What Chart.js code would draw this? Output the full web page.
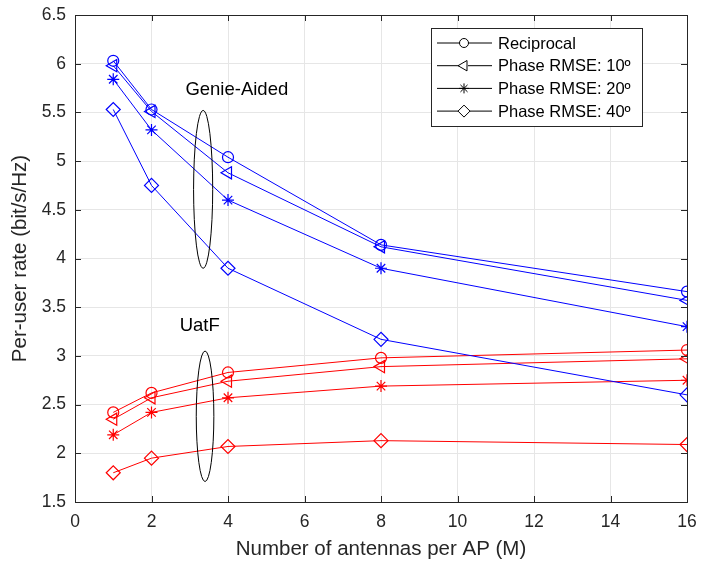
<!DOCTYPE html>
<html lang="en">
<head>
    <meta charset="UTF-8">
    <title>Per-user rate vs antennas per AP</title>
    <script src="https://cdn.jsdelivr.net/npm/chart.js"></script>
    <style>
        body, html {
            margin: 0;
            padding: 0;
            background-color: #ffffff;
        }
        .chart-box {
            width: 702px;
            height: 562px;
        }
    </style>
</head>
<body>
    <div class="chart-box">
        <canvas id="rateChart" width="702" height="562"></canvas>
    </div>

    <script>
        // Antennas per AP
        const antennas = [1, 2, 4, 8, 16];

        // Legend names and matching markers
        const seriesNames = ['Reciprocal', 'Phase RMSE: 10º', 'Phase RMSE: 20º', 'Phase RMSE: 40º'];
        const markers = ['circle', 'triangle', 'star', 'rectRot'];
        const markerRotation = [0, -90, 0, 0];
        const markerSize = [5.5, 7, 6, 7];

        // Genie-Aided rates (blue)
        const genieReciprocal = [6.03, 5.53, 5.04, 4.14, 3.66];
        const genie10 = [5.98, 5.51, 4.88, 4.12, 3.57];
        const genie20 = [5.84, 5.32, 4.60, 3.90, 3.30];
        const genie40 = [5.53, 4.75, 3.90, 3.17, 2.60];

        // UatF rates (red)
        const uatfReciprocal = [2.42, 2.62, 2.83, 2.98, 3.06];
        const uatf10 = [2.35, 2.57, 2.74, 2.89, 2.97];
        const uatf20 = [2.19, 2.42, 2.57, 2.69, 2.75];
        const uatf40 = [1.80, 1.95, 2.07, 2.13, 2.09];

        const xTicks = [0, 2, 4, 6, 8, 10, 12, 14, 16];
        const yTicks = [1.5, 2, 2.5, 3, 3.5, 4, 4.5, 5, 5.5, 6, 6.5];

        const fontName = "'Liberation Sans', Arial, sans-serif";

        function makeSet(values, idx, color) {
            return {
                label: seriesNames[idx],
                data: values.map((v, i) => ({ x: antennas[i], y: v })),
                borderColor: color,
                backgroundColor: 'rgba(0,0,0,0)',
                borderWidth: 1,
                pointStyle: markers[idx],
                pointRotation: markerRotation[idx],
                pointRadius: markerSize[idx],
                pointBorderWidth: 1.2,
                pointBorderColor: color,
                pointBackgroundColor: 'rgba(0,0,0,0)',
                fill: false,
                tension: 0
            };
        }

        const datasets = [
            makeSet(genieReciprocal, 0, '#0000ff'),
            makeSet(genie10, 1, '#0000ff'),
            makeSet(genie20, 2, '#0000ff'),
            makeSet(genie40, 3, '#0000ff'),
            makeSet(uatfReciprocal, 0, '#ff0000'),
            makeSet(uatf10, 1, '#ff0000'),
            makeSet(uatf20, 2, '#ff0000'),
            makeSet(uatf40, 3, '#ff0000')
        ];

        // Box, inward ticks, group ellipses and legend
        const extrasPlugin = {
            id: 'extras',
            afterDatasetsDraw(chart) {
                const ctx = chart.ctx;
                const a = chart.chartArea;
                const xs = chart.scales.x;
                const ys = chart.scales.y;

                ctx.save();
                ctx.strokeStyle = '#262626';
                ctx.lineWidth = 1;
                // inward tick marks
                ctx.beginPath();
                xTicks.forEach(t => {
                    const px = Math.round(xs.getPixelForValue(t)) + 0.5;
                    ctx.moveTo(px, a.bottom); ctx.lineTo(px, a.bottom - 6);
                    ctx.moveTo(px, a.top); ctx.lineTo(px, a.top + 6);
                });
                yTicks.forEach(t => {
                    const py = Math.round(ys.getPixelForValue(t)) + 0.5;
                    ctx.moveTo(a.left, py); ctx.lineTo(a.left + 6, py);
                    ctx.moveTo(a.right, py); ctx.lineTo(a.right - 6, py);
                });
                ctx.stroke();
                ctx.strokeRect(Math.round(a.left) + 0.5, Math.round(a.top) + 0.5,
                    Math.round(a.right - a.left), Math.round(a.bottom - a.top));

                // ellipses grouping the curves
                ctx.strokeStyle = '#000000';
                const ellipse = (cx, cy, hw, hh) => {
                    const px = xs.getPixelForValue(cx);
                    const py = ys.getPixelForValue(cy);
                    const rx = xs.getPixelForValue(cx + hw) - px;
                    const ry = py - ys.getPixelForValue(cy + hh);
                    ctx.beginPath();
                    ctx.ellipse(px, py, rx, ry, 0, 0, Math.PI * 2);
                    ctx.stroke();
                };
                ellipse(3.35, 4.71, 0.25, 0.81);
                ellipse(3.4, 2.38, 0.23, 0.67);

                ctx.fillStyle = '#000000';
                ctx.font = '18.5px ' + fontName;
                ctx.textAlign = 'center';
                ctx.textBaseline = 'middle';
                ctx.fillText('Genie-Aided', xs.getPixelForValue(4.23), ys.getPixelForValue(5.73));
                ctx.fillText('UatF', xs.getPixelForValue(3.26), ys.getPixelForValue(3.31));

                // legend
                const lx = 431, ly = 28, lw = 211, lh = 98;
                ctx.fillStyle = '#ffffff';
                ctx.fillRect(lx, ly, lw, lh);
                ctx.strokeStyle = '#262626';
                ctx.strokeRect(lx + 0.5, ly + 0.5, lw, lh);
                ctx.font = '16.5px ' + fontName;
                ctx.textAlign = 'left';
                seriesNames.forEach((name, i) => {
                    const ry = ly + 15 + i * 22.7;
                    ctx.strokeStyle = '#000000';
                    ctx.lineWidth = 1;
                    ctx.beginPath();
                    ctx.moveTo(lx + 6, ry);
                    ctx.lineTo(lx + 61, ry);
                    ctx.stroke();
                    // clear the line behind the marker
                    if (markers[i] !== 'star') {
                        ctx.fillStyle = '#ffffff';
                        ctx.beginPath();
                        ctx.arc(lx + 33, ry, 4, 0, Math.PI * 2);
                        ctx.fill();
                    }
                    Chart.helpers.drawPoint(ctx, {
                        pointStyle: markers[i],
                        rotation: markerRotation[i],
                        radius: markerSize[i] - 1,
                        borderWidth: 1.2
                    }, lx + 33, ry);
                    ctx.fillStyle = '#000000';
                    ctx.fillText(name, lx + 67, ry + 1);
                });
                ctx.restore();
            }
        };

        new Chart(document.getElementById('rateChart').getContext('2d'), {
            type: 'line',
            data: { datasets: datasets },
            plugins: [extrasPlugin],
            options: {
                responsive: false,
                animation: false,
                layout: { padding: { top: 15, right: 15, left: 8, bottom: 0 } },
                plugins: {
                    legend: { display: false },
                    tooltip: { enabled: false }
                },
                scales: {
                    x: {
                        type: 'linear',
                        min: 0,
                        max: 16,
                        afterBuildTicks: s => { s.ticks = xTicks.map(v => ({ value: v })); },
                        afterFit: s => { s.height = 60; s.paddingLeft = 0; s.paddingRight = 0; },
                        grid: { color: '#e6e6e6', drawTicks: false },
                        border: { color: '#262626' },
                        ticks: {
                            color: '#262626',
                            padding: 10,
                            maxRotation: 0,
                            font: { family: fontName, size: 17.5 },
                            callback: v => String(v)
                        },
                        title: {
                            display: true,
                            text: 'Number of antennas per AP (M)',
                            color: '#262626',
                            padding: { top: 0, bottom: 0 },
                            font: { family: fontName, size: 20.5 }
                        }
                    },
                    y: {
                        min: 1.5,
                        max: 6.5,
                        afterBuildTicks: s => { s.ticks = yTicks.map(v => ({ value: v })); },
                        afterFit: s => { s.width = 67; s.paddingTop = 0; s.paddingBottom = 0; },
                        grid: { color: '#e6e6e6', drawTicks: false },
                        border: { color: '#262626' },
                        ticks: {
                            color: '#262626',
                            padding: 9,
                            font: { family: fontName, size: 17.5 },
                            callback: v => String(v)
                        },
                        title: {
                            display: true,
                            text: 'Per-user rate (bit/s/Hz)',
                            color: '#262626',
                            padding: { top: 0, bottom: 0 },
                            font: { family: fontName, size: 20.5 }
                        }
                    }
                }
            }
        });
    </script>
</body>
</html>
